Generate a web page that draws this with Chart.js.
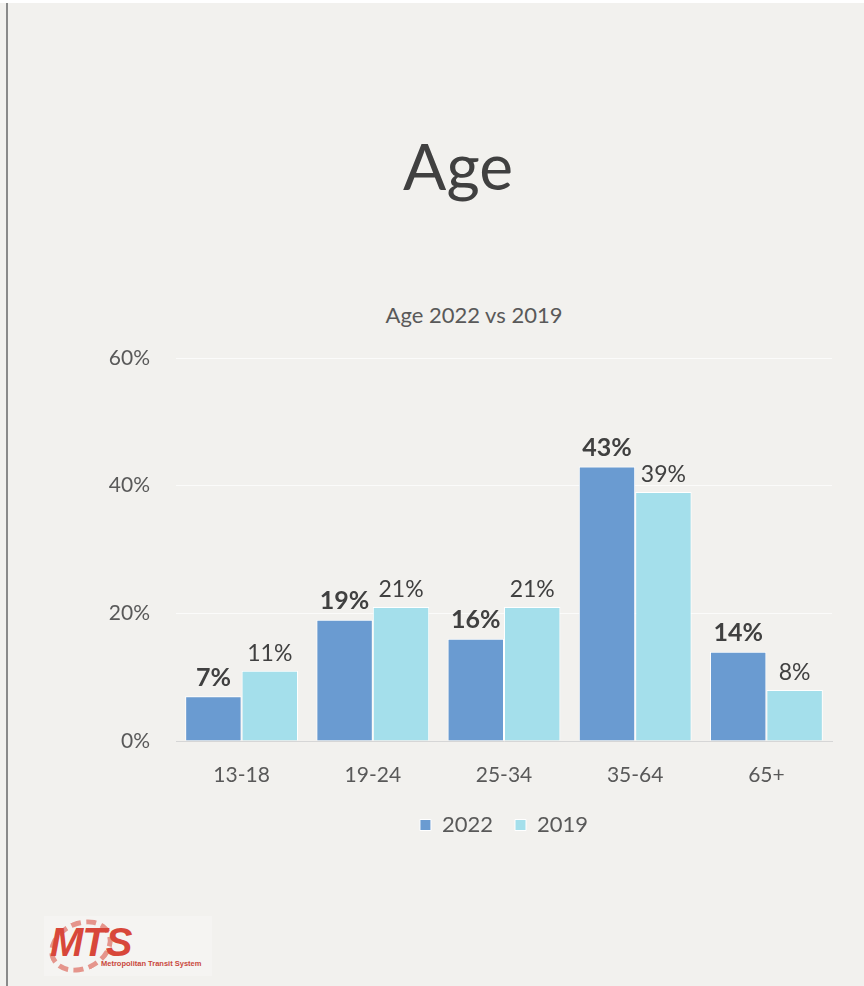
<!DOCTYPE html>
<html>
<head>
<meta charset="utf-8">
<script src="https://cdn.jsdelivr.net/npm/chart.js@4.4.0/dist/chart.umd.min.js"></script>
<style>
  html, body { margin: 0; padding: 0; background: #f2f1ee; }
  body { width: 864px; height: 986px; position: relative; overflow: hidden; font-family: Lato, "Open Sans", sans-serif; }
  #edge { position: absolute; left: 6px; top: 3px; width: 2px; height: 983px; background: #8a8a8a; }
  #topstrip { position: absolute; left: 0; top: 0; width: 864px; height: 3px; background: #ffffff; }
  #chartBox { position: absolute; left: 0; top: 0; width: 864px; height: 986px; }
  .title { position: absolute; color: #404040; white-space: nowrap; transform: translateX(-50%); }
  #mainTitle { left: 458px; top: 127px; font-size: 64px; font-weight: 400; }
  #subTitle { left: 474px; top: 301px; font-size: 22px; color: #595959; }
  #logo { position: absolute; left: 44px; top: 916px; width: 168px; height: 60px; background: #f5f4f2; overflow: hidden; }
  #logo .ring { position: absolute; left: 4px; top: 5px; width: 56px; height: 40px; border: 5px dashed rgba(216, 71, 58, 0.55); border-radius: 50%; transform: rotate(-25deg); }
  #logo .mts { position: absolute; left: 6px; top: 4px; font-family: "Liberation Sans", Arial, sans-serif; font-size: 40px; font-weight: bold; font-style: italic; color: #d8473a; letter-spacing: -1px; }
  #logo .name { position: absolute; left: 57px; top: 43px; font-family: "Liberation Sans", Arial, sans-serif; font-size: 7.5px; font-weight: bold; color: #c9483c; }
</style>
</head>
<body>
<div id="topstrip"></div>
<div id="edge"></div>
<div id="mainTitle" class="title">Age</div>
<div id="subTitle" class="title">Age 2022 vs 2019</div>
<div id="chartBox"><canvas id="ageChart" width="864" height="986"></canvas></div>
<div id="logo"><div class="ring"></div><div class="mts">MTS</div><div class="name">Metropolitan Transit System</div></div>
<script>
const categories = ['13-18', '19-24', '25-34', '35-64', '65+'];
const values2022 = [7, 19, 16, 43, 14];
const values2019 = [11, 21, 21, 39, 8];
const yTicks = [0, 20, 40, 60];

const textColor = '#404040';
const tickColor = '#595959';
const fontFamily = 'Lato, "Open Sans", sans-serif';

// draws the % labels above each bar (2022 bold, 2019 regular)
const barLabels = {
    id: 'barLabels',
    afterDatasetsDraw(chart) {
        const ctx = chart.ctx;
        ctx.save();
        ctx.textAlign = 'center';
        ctx.textBaseline = 'bottom';
        ctx.fillStyle = textColor;
        chart.data.datasets.forEach((ds, di) => {
            const meta = chart.getDatasetMeta(di);
            ctx.font = di === 0 ? 'bold 25px ' + fontFamily : '23px ' + fontFamily;
            meta.data.forEach((bar, i) => {
                ctx.fillText(ds.data[i] + '%', bar.x, bar.y - 6);
            });
        });
        ctx.restore();
    }
};

const ctx = document.getElementById('ageChart');
new Chart(ctx, {
    type: 'bar',
    data: {
        labels: categories,
        datasets: [
            { label: '2022', data: values2022, backgroundColor: '#6a9bd1', borderColor: '#ffffff', borderWidth: 1 },
            { label: '2019', data: values2019, backgroundColor: '#a4dfeb', borderColor: '#ffffff', borderWidth: 1 }
        ]
    },
    options: {
        responsive: false,
        animation: false,
        layout: { padding: { top: 358, left: 40, right: 32, bottom: 140 } },
        datasets: { bar: { categoryPercentage: 0.86, barPercentage: 1.0 } },
        plugins: {
            title: { display: false },
            tooltip: { enabled: false },
            legend: {
                position: 'bottom',
                fullSize: false,
                labels: {
                    boxWidth: 11, boxHeight: 11, padding: 22, color: tickColor,
                    font: { size: 22, family: fontFamily }
                }
            }
        },
        scales: {
            x: {
                grid: { display: false },
                border: { display: true, color: '#d6d6d6', width: 1 },
                ticks: { color: tickColor, padding: 14, font: { size: 21, family: fontFamily } },
                afterFit(scale) { scale.height = 51; }
            },
            y: {
                min: 0, max: 60,
                afterBuildTicks(scale) { scale.ticks = yTicks.map(v => ({ value: v })); },
                grid: {
                    drawTicks: false,
                    color: c => c.tick.value === 0 ? 'rgba(0,0,0,0)' : 'rgba(255,255,255,0.7)'
                },
                border: { display: false },
                ticks: {
                    color: tickColor, padding: 26,
                    font: { size: 21, family: fontFamily },
                    callback: v => v + '%'
                },
                afterFit(scale) { scale.width = 136; }
            }
        }
    },
    plugins: [barLabels]
});
</script>
</body>
</html>
